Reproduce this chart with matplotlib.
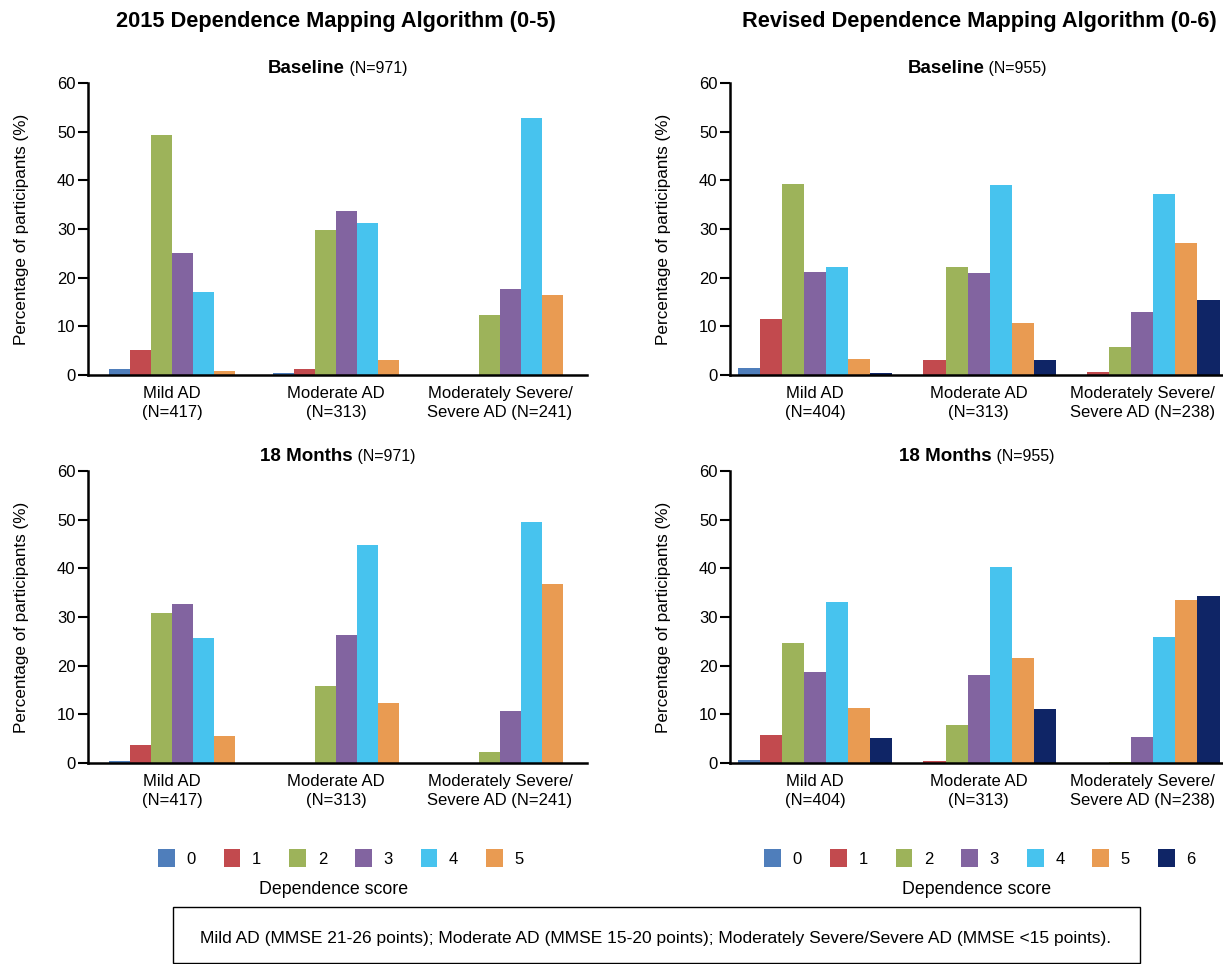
import numpy as np
import matplotlib
matplotlib.use("Agg")
import matplotlib.pyplot as plt
from matplotlib.patches import Rectangle, Patch
from matplotlib.offsetbox import TextArea, HPacker, AnnotationBbox

plt.rcParams['font.family'] = ['Liberation Sans', 'DejaVu Sans']

# percentage of participants per dependence score, one row per severity group
groups_2015 = ["Mild AD\n(N=417)", "Moderate AD\n(N=313)", "Moderately Severe/\nSevere AD (N=241)"]
groups_rev = ["Mild AD\n(N=404)", "Moderate AD\n(N=313)", "Moderately Severe/\nSevere AD (N=238)"]

base_2015 = [
    [1.2, 5.1, 49.4, 25.1, 17.1, 0.8],
    [0.4, 1.2, 29.8, 33.7, 31.3, 3.1],
    [0.0, 0.0, 12.3, 17.7, 52.9, 16.5],
]
m18_2015 = [
    [0.4, 3.7, 30.8, 32.7, 25.7, 5.5],
    [0.0, 0.0, 15.8, 26.3, 44.8, 12.3],
    [0.0, 0.0, 2.3, 10.7, 49.5, 36.8],
]
base_rev = [
    [1.4, 11.5, 39.3, 21.2, 22.2, 3.3, 0.4],
    [0.0, 3.1, 22.2, 21.0, 39.1, 10.7, 3.1],
    [0.0, 0.6, 5.8, 13.0, 37.2, 27.2, 15.4],
]
m18_rev = [
    [0.6, 5.75, 24.7, 18.7, 33.1, 11.3, 5.1],
    [0.0, 0.4, 7.8, 18.1, 40.3, 21.6, 11.1],
    [0.0, 0.0, 0.2, 5.3, 25.9, 33.5, 34.3],
]

scores = ["0", "1", "2", "3", "4", "5", "6"]
colors = ["#4F7EBB", "#C24A4E", "#9DB35A", "#8264A0", "#47C3EE", "#E99B52", "#0F2566"]

W, H = 1223, 964
fig = plt.figure(figsize=(W / 100, H / 100), dpi=100)


def px_axes(x0, x1, ytop, ybot):
    return fig.add_axes([x0 / W, 1 - ybot / H, (x1 - x0) / W, (ybot - ytop) / H])


def draw_panel(ax, data, groups, bw, xlim, label, n):
    data = np.array(data)
    k = data.shape[1]
    x = np.arange(len(groups))
    for j in range(k):
        ax.bar(x + (j - (k - 1) / 2) * bw, data[:, j], width=bw,
               color=colors[j], linewidth=0)
    ax.set_xlim(*xlim)
    ax.set_ylim(0, 60)
    ax.set_yticks(np.arange(0, 61, 10))
    ax.set_xticks(x)
    ax.set_xticklabels(groups, fontsize=12, linespacing=1.3)
    ax.tick_params(axis='x', length=0, pad=8)
    ax.tick_params(axis='y', length=7, width=1.5, direction='out',
                   labelsize=12, pad=2)
    for s in ['top', 'right']:
        ax.spines[s].set_visible(False)
    for s in ['left', 'bottom']:
        ax.spines[s].set_linewidth(1.8)
    ax.set_ylabel("Percentage of participants (%)", fontsize=12.3, labelpad=20)

    t1 = TextArea(label, textprops=dict(fontweight='bold', fontsize=13.5))
    t2 = TextArea(" (N=%d)" % n, textprops=dict(fontsize=11.5))
    box = HPacker(children=[t1, t2], align='baseline', pad=0, sep=0)
    ab = AnnotationBbox(box, (0.5, 1.0), xycoords='axes fraction',
                        xybox=(0, 4), boxcoords='offset points',
                        box_alignment=(0.5, 0), frameon=False,
                        annotation_clip=False, pad=0)
    ax.add_artist(ab)


xl_left = (-0.512, 2.53)
xl_right = (-0.52, 2.50)

ax1 = px_axes(88, 587, 83, 375)
draw_panel(ax1, base_2015, groups_2015, 0.128, xl_left, "Baseline", 971)
ax2 = px_axes(730, 1224, 83, 375)
draw_panel(ax2, base_rev, groups_rev, 0.135, xl_right, "Baseline", 955)
ax3 = px_axes(88, 587, 471, 763)
draw_panel(ax3, m18_2015, groups_2015, 0.128, xl_left, "18 Months", 971)
ax4 = px_axes(730, 1224, 471, 763)
draw_panel(ax4, m18_rev, groups_rev, 0.135, xl_right, "18 Months", 955)

fig.text(336 / W, 1 - 22 / H, "2015 Dependence Mapping Algorithm (0-5)",
         ha='center', va='center', fontsize=15.7, fontweight='bold')
fig.text(979 / W, 1 - 22 / H, "Revised Dependence Mapping Algorithm (0-6)",
         ha='center', va='center', fontsize=15.7, fontweight='bold')

# score legends under each column
for nsc, cx, tx in [(6, 341, 334), (7, 980, 977)]:
    handles = [Patch(facecolor=colors[j], linewidth=0) for j in range(nsc)]
    fig.legend(handles, scores[:nsc], loc='center',
               bbox_to_anchor=(cx / W, 1 - 858 / H), ncol=nsc, frameon=False,
               fontsize=12, handlelength=1.0, handleheight=1.2,
               handletextpad=0.7, columnspacing=1.68)
    fig.text(tx / W, 1 - 889 / H, "Dependence score", ha='center',
             va='center', fontsize=12.8)

# footnote box
fig.patches.append(Rectangle((173 / W, 1 - 963 / H), (1140 - 173) / W, (963 - 907) / H,
                             transform=fig.transFigure, facecolor='none',
                             edgecolor='black', linewidth=1.0))
fig.text(656 / W, 1 - 938 / H,
         "Mild AD (MMSE 21-26 points); Moderate AD (MMSE 15-20 points); "
         "Moderately Severe/Severe AD (MMSE <15 points).",
         ha='center', va='center', fontsize=12.55)

fig.savefig("out.png", dpi=100)
